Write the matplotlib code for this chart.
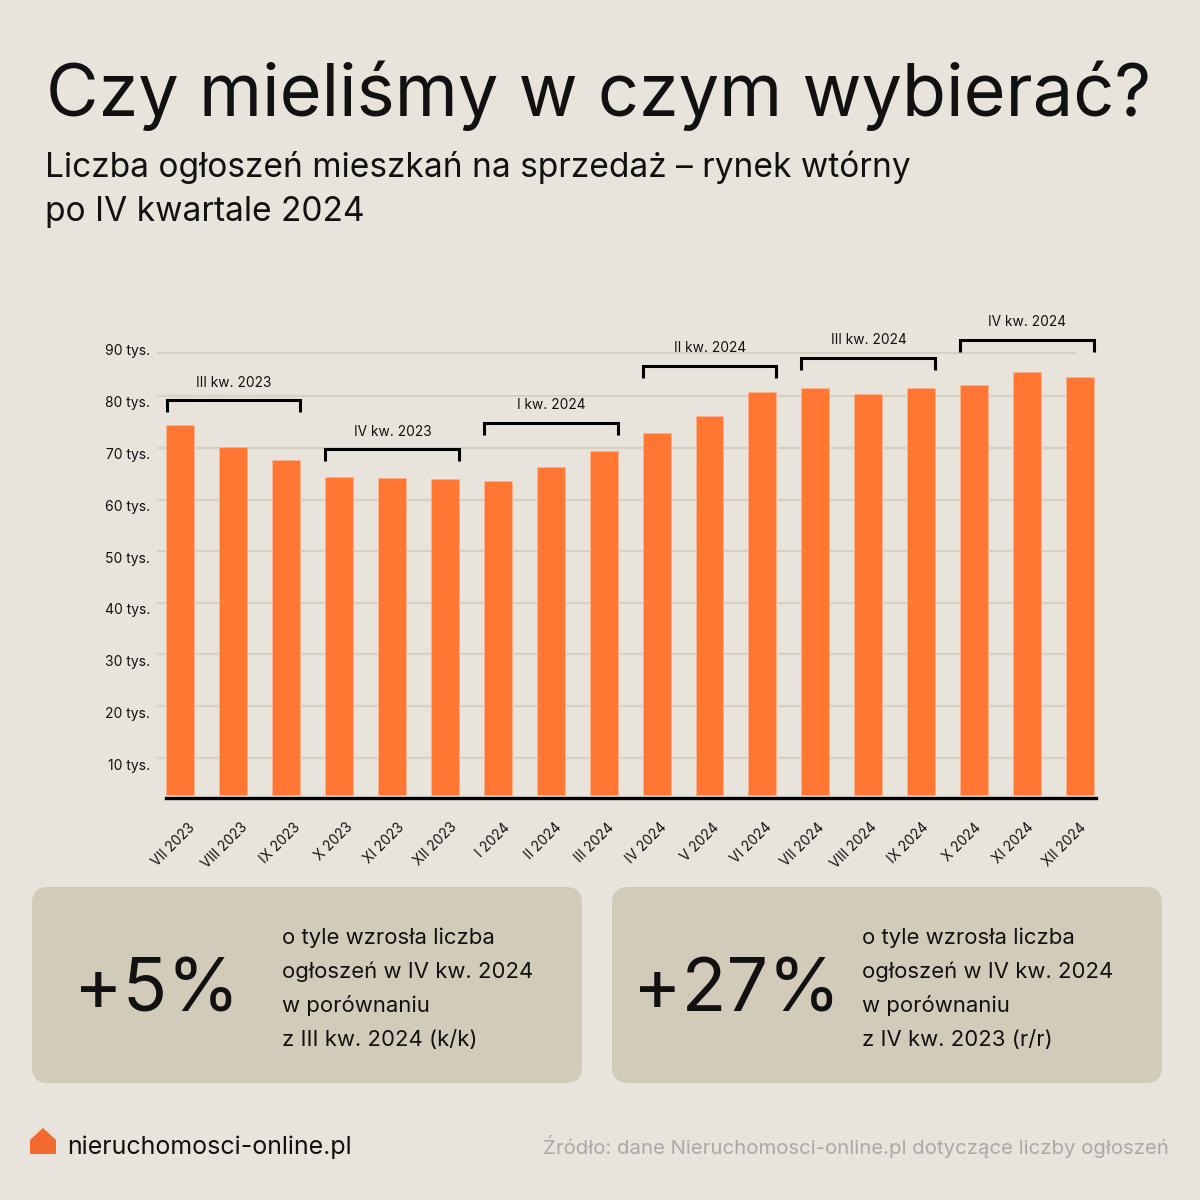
import matplotlib.pyplot as plt
from matplotlib.patches import FancyBboxPatch, Polygon

plt.rcParams['font.family'] = ['Inter', 'DejaVu Sans']

# dane
months = ['VII 2023', 'VIII 2023', 'IX 2023', 'X 2023', 'XI 2023', 'XII 2023',
          'I 2024', 'II 2024', 'III 2024', 'IV 2024', 'V 2024', 'VI 2024',
          'VII 2024', 'VIII 2024', 'IX 2024', 'X 2024', 'XI 2024', 'XII 2024']
values = [74.5, 70.2, 67.6, 64.4, 64.2, 64.0, 63.6, 66.3, 69.5,
          73.0, 76.2, 80.9, 81.6, 80.4, 81.6, 82.3, 84.7, 83.7]
grid_values = [10, 20, 30, 40, 50, 60, 70, 80, 88.42]
y_ticks = [10, 20, 30, 40, 50, 60, 70, 80, 90]
y_labels = ['10 tys.', '20 tys.', '30 tys.', '40 tys.', '50 tys.',
            '60 tys.', '70 tys.', '80 tys.', '90 tys.']
quarters = ['III kw. 2023', 'IV kw. 2023', 'I kw. 2024', 'II kw. 2024', 'III kw. 2024', 'IV kw. 2024']
quarter_start = [0, 3, 6, 9, 12, 15]
quarter_end = [2, 5, 8, 11, 14, 17]
quarter_level = [79.3, 69.8, 74.9, 85.9, 87.5, 91.0]

BG = '#e8e4dc'
PANEL = '#d3cbba'
ORANGE = '#ff7733'
GRID = '#d6d1c2'
BLACK = '#111111'

fig = plt.figure(figsize=(12, 12), dpi=100, facecolor=BG)

# warstwa w pikselach na teksty i panele
bg = fig.add_axes([0, 0, 1, 1])
bg.set_xlim(0, 1200)
bg.set_ylim(1200, 0)
bg.axis('off')

bg.text(46, 96, 'Czy mieliśmy w czym wybierać?', fontsize=51.9, color=BLACK, va='center', ha='left')
bg.text(45, 167, 'Liczba ogłoszeń mieszkań na sprzedaż – rynek wtórny', fontsize=24.1, color=BLACK, va='center')
bg.text(45, 212, 'po IV kwartale 2024', fontsize=24.1, color=BLACK, va='center')

for x0, big, big_x, lines in [
    (32, '+5%', 157, ['o tyle wzrosła liczba', 'ogłoszeń w IV kw. 2024', 'w porównaniu', 'z III kw. 2024 (k/k)']),
    (612, '+27%', 737, ['o tyle wzrosła liczba', 'ogłoszeń w IV kw. 2024', 'w porównaniu', 'z IV kw. 2023 (r/r)']),
]:
    bg.add_patch(FancyBboxPatch((x0 + 16, 903), 518, 164, boxstyle='round,pad=16,rounding_size=16',
                                fc=PANEL, ec='none'))
    bg.text(big_x, 992, big, fontsize=53, color=BLACK, ha='center', va='center')
    for i, line in enumerate(lines):
        bg.text(x0 + 250, 938 + i * 34, line, fontsize=15.9, color=BLACK, va='center')

bg.add_patch(Polygon([(30, 1154), (30, 1140), (43, 1128), (56, 1140), (56, 1154)], fc='#f26a2e', ec='none'))
bg.text(67, 1147, 'nieruchomosci-online.pl', fontsize=18, color=BLACK, va='center')
bg.text(1169, 1146, 'Źródło: dane Nieruchomosci-online.pl dotyczące liczby ogłoszeń', fontsize=14.67,
        color='#a9a9a9', va='center', ha='right')

# wykres: x od 157 do 1096 px, y od 353 do 798 px
ax = fig.add_axes([157 / 1200, 1 - 798 / 1200, 939 / 1200, 445 / 1200], facecolor='none')
ax.set_xlim(-0.444, 17.306)
ax.set_ylim(2.19, 88.42)

ax.hlines(grid_values, -0.444, 16.93, color=GRID, lw=1.6, zorder=1, clip_on=False)
ax.bar(range(len(values)), [v - 2.77 for v in values], bottom=2.77, width=0.529,
       color=ORANGE, edgecolor='#fbb48c', lw=0.6, zorder=2, clip_on=False)

for name, a, b, level in zip(quarters, quarter_start, quarter_end, quarter_level):
    left = a - 0.264
    right = b + 0.264
    ax.plot([left, left, right, right], [level - 2.3, level, level, level - 2.3], color='black',
            lw=2.2, solid_joinstyle='miter', solid_capstyle='butt', zorder=3, clip_on=False)
    ax.text((a + b) / 2 + 0.01, level + 3.4, name, fontsize=9.9, color=BLACK, ha='center', va='center')

for side in ['top', 'left', 'right']:
    ax.spines[side].set_visible(False)
ax.spines['bottom'].set_linewidth(2.4)
ax.spines['bottom'].set_bounds(-0.274, 17.306)
ax.set_yticks([])
ax.set_xticks([])

# etykiety osi maja w oryginale inna skale niz linie siatki i slupki
ax_lab = fig.add_axes([157 / 1200, 1 - 798 / 1200, 939 / 1200, 453 / 1200], facecolor='none')
ax_lab.set_xticks(range(len(months)))
ax_lab.set_xticklabels(months, rotation=45, ha='right', rotation_mode='anchor', fontsize=9.9, color=BLACK)
ax_lab.set_yticks(y_ticks)
ax_lab.set_yticklabels(y_labels, fontsize=10, color=BLACK)
ax_lab.set_xlim(-0.592, 17.33)
ax_lab.set_ylim(3.54, 90.87)
ax_lab.tick_params(axis='y', length=0, pad=5)
ax_lab.tick_params(axis='x', length=0, pad=16)
for side in ax_lab.spines:
    ax_lab.spines[side].set_visible(False)

fig.savefig('out.png', dpi=100, facecolor=BG)
